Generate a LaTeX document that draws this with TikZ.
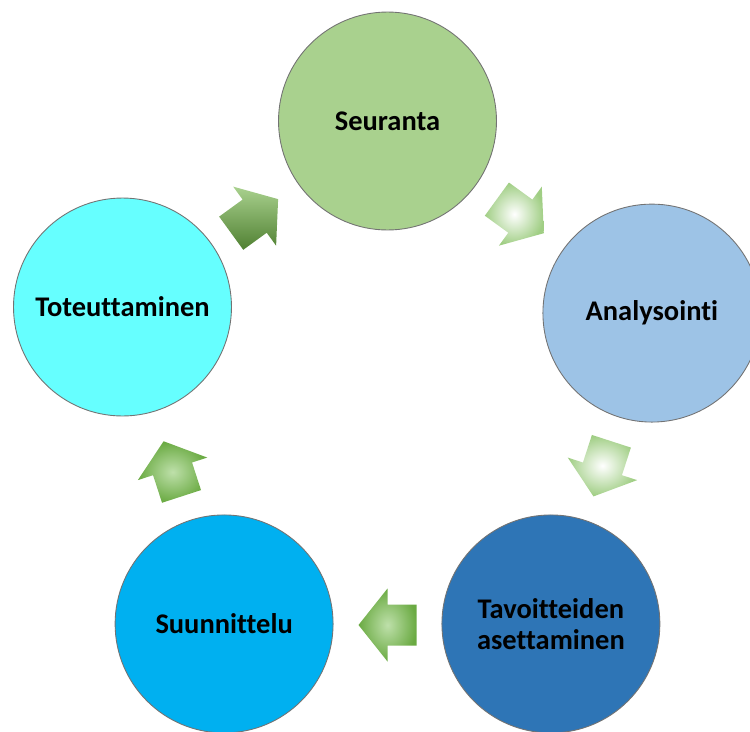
\documentclass[tikz,border=0pt]{standalone}
\usepackage{fontspec}
\setmainfont[Ligatures=NoCommon]{Carlito}
\usepackage{tikz}
\definecolor{seurantafill}{RGB}{169,209,142}
\definecolor{analyysifill}{RGB}{157,195,230}
\definecolor{tavoitefill}{RGB}{46,117,182}
\definecolor{suunnittelufill}{RGB}{0,176,240}
\definecolor{toteutusfill}{RGB}{102,255,255}
\definecolor{darkleaf}{RGB}{80,128,50}
\definecolor{leaf}{RGB}{106,170,66}
\definecolor{lightleaf}{RGB}{190,224,170}
\definecolor{paleleaf}{RGB}{160,206,132}
\tikzstyle{stage} = [circle, draw=black!55, line width=0.5pt, minimum size=4.36cm,
    inner sep=0pt, align=center, font=\fontsize{16.2}{17.5}\selectfont\bfseries]
\tikzstyle{darkarrow} = [top color=seurantafill, bottom color=darkleaf]
\tikzstyle{palearrow} = [inner color=white, outer color=paleleaf]
\tikzstyle{leafarrow} = [inner color=lightleaf, outer color=leaf]
\newcommand{\stagearrow}[2]{%
    \begin{scope}[shift={(#1:226)}, rotate=#1-90]
        \path[#2] (29,0) -- (0,36.5) -- (0,20.5) -- (-29,20.5)
            -- (-29,-20.5) -- (0,-20.5) -- (0,-36.5) -- cycle;
    \end{scope}}

\begin{document}
\begin{tikzpicture}[x=0.02cm, y=0.02cm]
            \useasboundingbox (-387.5,-332) rectangle (362.5,399);
            \clip (-387.5,-332) rectangle (362.5,399);

            \node[stage, fill=seurantafill] (seuranta) at (90:278) {Seuranta};
            \node[stage, fill=analyysifill] (analysointi) at (18:278) {Analysointi};
            \node[stage, fill=tavoitefill] (tavoitteet) at (-54:278) {Tavoitteiden\\asettaminen};
            \node[stage, fill=suunnittelufill] (suunnittelu) at (-126:278) {Suunnittelu};
            \node[stage, fill=toteutusfill] (toteutus) at (-265,92) {Toteuttaminen};

            \stagearrow{54}{palearrow}
            \stagearrow{-18}{palearrow}
            \stagearrow{-90}{leafarrow}
            \stagearrow{-162}{leafarrow}
            \stagearrow{126}{darkarrow}
        \end{tikzpicture}
\end{document}
